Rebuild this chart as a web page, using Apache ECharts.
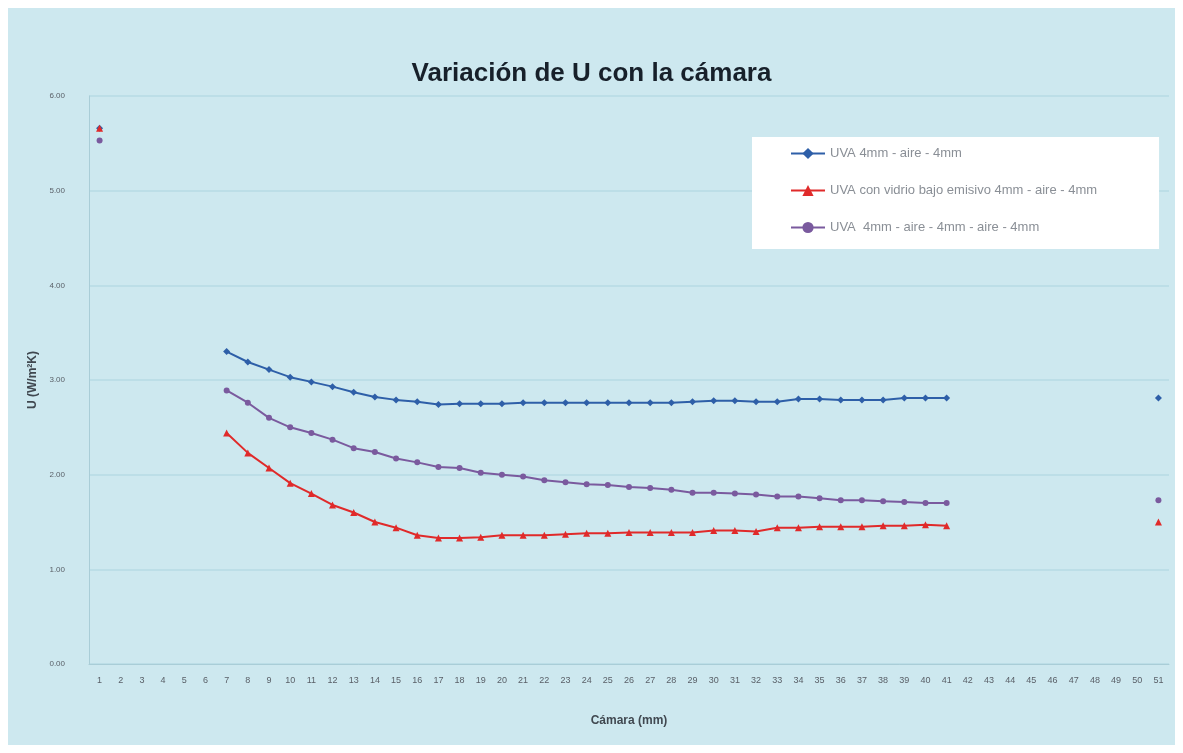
<!DOCTYPE html>
<html>
<head>
<meta charset="utf-8">
<script src="https://cdn.jsdelivr.net/npm/echarts@6/dist/echarts.min.js"></script>
<style>
html,body{margin:0;padding:0;background:#ffffff;}
#bg{position:absolute;left:8px;top:8px;width:1167px;height:737px;background:#cde8ef;}
#chart{position:absolute;left:0;top:0;width:1183px;height:753px;}
</style>
</head>
<body>
<div id="bg"></div>
<div id="chart"></div>
<script>
// Categories (cámara, mm)
const categories = [];
for (let i = 1; i <= 51; i++) categories.push(String(i));

const titleText = 'Variación de U con la cámara';
const xName = 'Cámara (mm)';
const yName = 'U (W/m²K)';
const seriesNames = [
  'UVA 4mm - aire - 4mm',
  'UVA con vidrio bajo emisivo 4mm - aire - 4mm',
  'UVA  4mm - aire - 4mm - aire - 4mm'
];

// values for cámara 1..51 (null = no data)
const blueValues = [5.66, null, null, null, null, null,
  3.30, 3.19, 3.11, 3.03, 2.98, 2.93, 2.87, 2.82, 2.79, 2.77,
  2.74, 2.75, 2.75, 2.75, 2.76, 2.76, 2.76, 2.76, 2.76, 2.76,
  2.76, 2.76, 2.77, 2.78, 2.78, 2.77, 2.77, 2.80, 2.80, 2.79,
  2.79, 2.79, 2.81, 2.81, 2.81,
  null, null, null, null, null, null, null, null, null, 2.81];

const redValues = [5.66, null, null, null, null, null,
  2.44, 2.23, 2.07, 1.91, 1.80, 1.68, 1.60, 1.50, 1.44, 1.36,
  1.33, 1.33, 1.34, 1.36, 1.36, 1.36, 1.37, 1.38, 1.38, 1.39,
  1.39, 1.39, 1.39, 1.41, 1.41, 1.40, 1.44, 1.44, 1.45, 1.45,
  1.45, 1.46, 1.46, 1.47, 1.46,
  null, null, null, null, null, null, null, null, null, 1.50];

const purpleValues = [5.53, null, null, null, null, null,
  2.89, 2.76, 2.60, 2.50, 2.44, 2.37, 2.28, 2.24, 2.17, 2.13,
  2.08, 2.07, 2.02, 2.00, 1.98, 1.94, 1.92, 1.90, 1.89, 1.87,
  1.86, 1.84, 1.81, 1.81, 1.80, 1.79, 1.77, 1.77, 1.75, 1.73,
  1.73, 1.72, 1.71, 1.70, 1.70,
  null, null, null, null, null, null, null, null, null, 1.73];

const chart = echarts.init(document.getElementById('chart'), null, {renderer: 'canvas'});

function mkSeries(name, data, color, symbol, size) {
  return {
    name: name,
    type: 'line',
    data: data,
    connectNulls: false,
    symbol: symbol,
    symbolSize: size,
    showAllSymbol: true,
    lineStyle: {color: color, width: 2},
    itemStyle: {color: color},
    emphasis: {disabled: true}
  };
}

chart.setOption({
  animation: false,
  backgroundColor: 'transparent',
  title: {
    text: titleText,
    left: 'center',
    top: 56,
    textStyle: {
      fontFamily: 'Liberation Sans Narrow, Arial Narrow, Liberation Sans, sans-serif',
      fontWeight: 'bold',
      fontSize: 26,
      color: '#17202a'
    }
  },
  legend: {
    orient: 'vertical',
    left: 752,
    top: 137,
    backgroundColor: '#ffffff',
    padding: [10, 62, 15, 38],
    itemGap: 24,
    itemWidth: 34,
    itemHeight: 14,
    textStyle: {fontSize: 13, color: '#8a8f96', fontFamily: 'Liberation Sans, Arial, sans-serif'},
    data: seriesNames
  },
  grid: {left: 89, right: 14, top: 96, bottom: 89, containLabel: false},
  xAxis: {
    type: 'category',
    data: categories,
    boundaryGap: true,
    name: xName,
    nameLocation: 'middle',
    nameGap: 51,
    nameTextStyle: {fontWeight: 'bold', fontSize: 12, color: '#404850', fontFamily: 'Liberation Sans, Arial, sans-serif'},
    axisLine: {lineStyle: {color: '#a9cdd7'}},
    axisTick: {show: false},
    axisLabel: {interval: 0, fontSize: 9, color: '#5a6068', margin: 12},
    splitLine: {show: false}
  },
  yAxis: {
    type: 'value',
    min: 0,
    max: 6,
    interval: 1,
    name: yName,
    nameLocation: 'middle',
    nameRotate: 90,
    nameGap: 45,
    nameTextStyle: {fontWeight: 'bold', fontSize: 12, color: '#404850', fontFamily: 'Liberation Sans, Arial, sans-serif'},
    axisLine: {show: true, lineStyle: {color: '#a9cdd7'}},
    axisTick: {show: false},
    axisLabel: {fontSize: 8, color: '#5a6068', margin: 24, formatter: v => v.toFixed(2)},
    splitLine: {show: true, lineStyle: {color: '#b6dbe4', width: 1.5}}
  },
  series: [
    mkSeries(seriesNames[0], blueValues, '#2e5fa8', 'diamond', 7),
    mkSeries(seriesNames[2], purpleValues, '#7a5a9e', 'circle', 6),
    mkSeries(seriesNames[1], redValues, '#e02a2a', 'triangle', 7)
  ]
});
</script>
</body>
</html>
